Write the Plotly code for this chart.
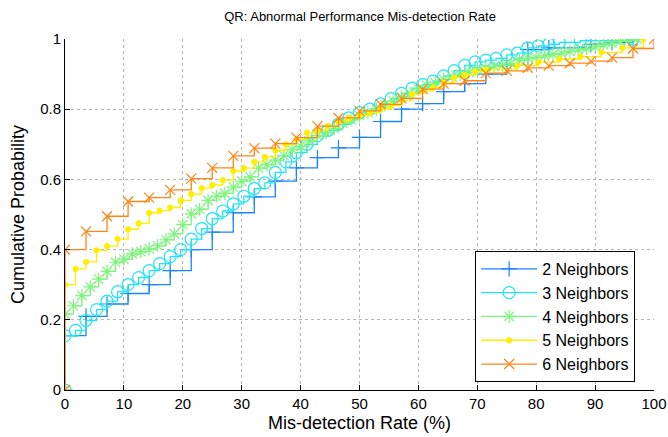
import plotly.graph_objects as go

# ---------------- data ----------------
x_2n = [0, 3.57, 7.14, 10.71, 14.29, 17.86, 21.43, 25.0, 28.57, 32.14, 35.71, 39.29,
        42.86, 46.43, 50.0, 53.57, 57.14, 60.71, 64.29, 67.86, 71.43, 75.0, 78.57,
        82.14, 89.29, 92.86, 96.43]
y_2n = [0.155, 0.21, 0.245, 0.275, 0.30, 0.34, 0.40, 0.45, 0.505, 0.55, 0.595, 0.633,
        0.662, 0.69, 0.72, 0.765, 0.80, 0.816, 0.85, 0.873, 0.90, 0.925, 0.97,
        0.975, 0.985, 0.99, 1.0]

x_3n = [0, 1.79, 3.57, 5.36, 7.14, 8.93, 10.71, 12.5, 14.29, 16.07, 17.86, 19.64,
        21.43, 23.21, 25.0, 26.79, 28.57, 30.36, 32.14, 33.93, 35.71, 37.5, 39.29,
        41.07, 42.86, 44.64, 46.43, 48.21, 50.0, 51.79, 53.57, 55.36, 57.14, 58.93,
        60.71, 62.5, 64.29, 66.07, 67.86, 69.64, 71.43, 73.21, 75.0, 76.79, 78.57,
        80.36, 82.14, 83.93, 87.5, 96.43]
y_3n = [0.155, 0.17, 0.198, 0.229, 0.253, 0.28, 0.30, 0.32, 0.34, 0.36, 0.38, 0.40,
        0.43, 0.46, 0.488, 0.51, 0.53, 0.552, 0.574, 0.59, 0.62, 0.65, 0.676,
        0.70, 0.724, 0.74, 0.757, 0.775, 0.79, 0.80, 0.815, 0.83, 0.845, 0.86,
        0.87, 0.88, 0.895, 0.91, 0.925, 0.935, 0.94, 0.945, 0.955, 0.96, 0.975,
        0.98, 0.985, 0.99, 0.995, 1.0]

x_4n = [0, 1.43, 2.86, 4.29, 5.71, 7.14, 8.57, 10.0, 11.43, 12.86, 14.29, 15.71,
        17.14, 18.57, 20.0, 21.43, 22.86, 24.29, 25.71, 27.14, 28.57, 30.0, 31.43,
        32.86, 34.29, 35.71, 37.14, 38.57, 40.0, 41.43, 42.86, 44.29, 45.71, 47.14,
        48.57, 50.0, 51.43, 52.86, 54.29, 55.71, 57.14, 58.57, 60.0, 61.43, 62.86,
        64.29, 65.71, 67.14, 68.57, 70.0, 71.43, 72.86, 74.29, 75.71, 77.14, 78.57,
        80.0, 81.43, 82.86, 84.29, 85.71, 87.14, 88.57, 90.0, 91.43, 92.86, 94.29,
        95.71, 97.14]
y_4n = [0.216, 0.24, 0.269, 0.294, 0.316, 0.338, 0.364, 0.373, 0.388, 0.394, 0.402, 0.411,
        0.428, 0.445, 0.471, 0.502, 0.515, 0.54, 0.552, 0.56, 0.578, 0.595, 0.607,
        0.632, 0.642, 0.655, 0.668, 0.685, 0.695, 0.71, 0.725, 0.733, 0.745, 0.76,
        0.77, 0.782, 0.79, 0.80, 0.812, 0.823, 0.835, 0.845, 0.858, 0.868, 0.875,
        0.885, 0.892, 0.90, 0.905, 0.912, 0.918, 0.922, 0.925, 0.93, 0.94, 0.945,
        0.948, 0.952, 0.956, 0.96, 0.965, 0.969, 0.973, 0.978, 0.983, 0.988, 0.993,
        0.997, 1.0]

x_5n = [0, 1.79, 3.57, 5.36, 7.14, 8.93, 10.71, 12.5, 14.29, 16.07, 17.86, 19.64,
        21.43, 23.21, 25.0, 26.79, 28.57, 30.36, 32.14, 33.93, 35.71, 37.5, 39.29,
        41.07, 42.86, 44.64, 46.43, 48.21, 50.0, 51.79, 53.57, 55.36, 57.14, 58.93,
        60.71, 62.5, 64.29, 66.07, 67.86, 69.64, 71.43, 76.79, 80.36, 83.93, 87.5,
        91.07, 94.64, 98.21]
y_5n = [0.30, 0.345, 0.365, 0.398, 0.41, 0.43, 0.458, 0.475, 0.505, 0.511, 0.52, 0.54,
        0.558, 0.575, 0.584, 0.598, 0.624, 0.632, 0.65, 0.664, 0.683, 0.70, 0.714,
        0.733, 0.74, 0.752, 0.765, 0.775, 0.782, 0.79, 0.80, 0.81, 0.825, 0.843,
        0.852, 0.862, 0.875, 0.89, 0.898, 0.907, 0.912, 0.924, 0.934, 0.943, 0.95,
        0.962, 0.975, 1.0]

x_6n = [0, 3.57, 7.14, 10.71, 14.29, 17.86, 21.43, 25.0, 28.57, 32.14, 35.71, 39.29,
        42.86, 46.43, 50.0, 53.57, 57.14, 60.71, 64.29, 67.86, 71.43, 75.0, 78.57,
        82.14, 85.71, 89.29, 92.86, 96.43, 100.0]
y_6n = [0.40, 0.452, 0.495, 0.537, 0.548, 0.57, 0.602, 0.633, 0.667, 0.689, 0.702, 0.719,
        0.752, 0.775, 0.795, 0.814, 0.831, 0.857, 0.873, 0.881, 0.903, 0.909, 0.918,
        0.924, 0.931, 0.937, 0.947, 0.973, 1.0]

series_names = ["2 Neighbors", "3 Neighbors", "4 Neighbors", "5 Neighbors", "6 Neighbors"]
series_x = [x_2n, x_3n, x_4n, x_5n, x_6n]
series_y = [y_2n, y_3n, y_4n, y_5n, y_6n]

x_ticks = [0, 10, 20, 30, 40, 50, 60, 70, 80, 90, 100]
y_ticks = [0, 0.2, 0.4, 0.6, 0.8, 1]
y_tick_text = ["0", "0.2", "0.4", "0.6", "0.8", "1"]

# ---------------- styles ----------------
colors = ["#1a85ff", "#22e4f2", "#7cf57c", "#ffee00", "#ff8514"]
markers = [
    dict(symbol="cross-thin", size=11),
    dict(symbol="circle-open", size=12),
    dict(symbol="asterisk", size=11),
    dict(symbol="circle", size=5),
    dict(symbol="x-thin", size=10),
]

fig = go.Figure()
for i, name in enumerate(series_names):
    xs = [series_x[i][0]] + list(series_x[i])
    ys = [0] + list(series_y[i])
    m = dict(markers[i])
    m["color"] = colors[i]
    m["line"] = dict(width=1.2, color=colors[i])
    fig.add_trace(go.Scatter(
        x=xs, y=ys, mode="lines+markers", name=name,
        line=dict(color=colors[i], width=1.3, shape="hv"),
        marker=m, legendgroup=name,
    ))

font_family = "Liberation Sans, Arial, Helvetica, sans-serif"
fig.update_layout(
    width=668, height=437,
    margin=dict(l=65, r=14, t=39, b=47, autoexpand=False),
    paper_bgcolor="white", plot_bgcolor="white",
    font=dict(family=font_family, size=15, color="black"),
    title=dict(text="QR: Abnormal Performance Mis-detection Rate",
               x=0.539, xanchor="center", y=0.963, yanchor="middle",
               font=dict(size=13, family=font_family, color="black")),
    showlegend=True,
    legend=dict(x=0.968, y=0.023, xanchor="right", yanchor="bottom",
                bgcolor="white", bordercolor="black", borderwidth=1,
                font=dict(size=16, family=font_family), tracegroupgap=0,
                itemwidth=56),
)
fig.update_xaxes(
    range=[0, 100], tickvals=x_ticks, ticks="inside", ticklen=5, tickcolor="black",
    showline=True, linecolor="black", linewidth=1, mirror=False, automargin=False,
    showgrid=True, gridcolor="#b4b4b4", griddash="dot", gridwidth=1, zeroline=False,
    title=dict(text="Mis-detection Rate (%)", standoff=5, font=dict(size=18)),
    tickfont=dict(size=15),
)
fig.update_yaxes(
    range=[0, 1], tickvals=y_ticks, ticktext=y_tick_text, ticks="inside", ticklen=5,
    tickcolor="black", showline=True, linecolor="black", linewidth=1, mirror=False,
    automargin=False,
    showgrid=True, gridcolor="#b4b4b4", griddash="dot", gridwidth=1, zeroline=False,
    title=dict(text="Cumulative Probability", standoff=10, font=dict(size=18)),
    tickfont=dict(size=15),
)

fig.write_html("out.html", config={"displayModeBar": False},
               post_script="document.body.style.margin='0';document.body.style.padding='0';")
